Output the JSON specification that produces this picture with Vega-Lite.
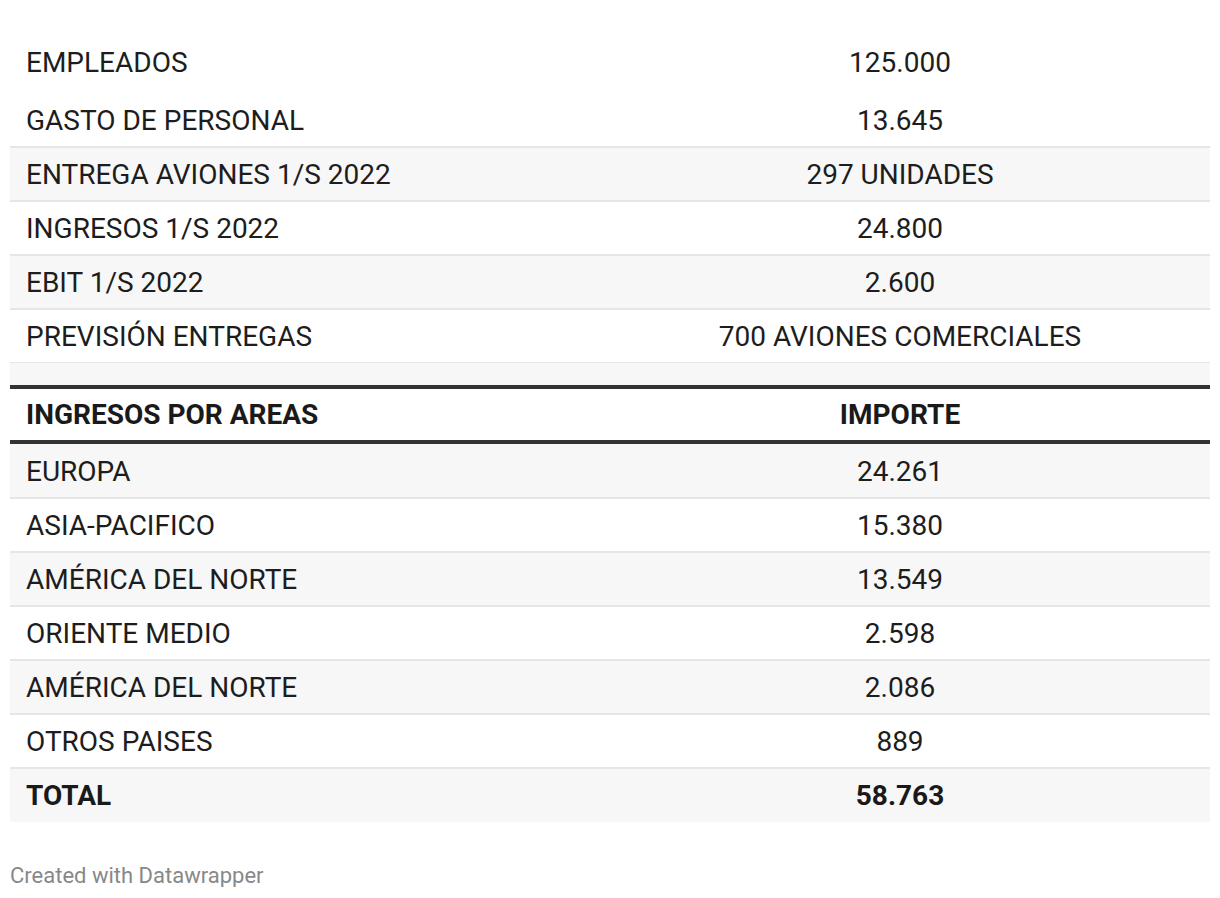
{
  "$schema": "https://vega.github.io/schema/vega-lite/v6.json",
  "padding": {"left": 8, "right": 12, "top": 31, "bottom": 0},
  "background": "white",
  "bounds": "flush",
  "spacing": 0,
  "config": {
    "view": {"stroke": null},
    "text": {"font": "Roboto", "fontSize": 28, "color": "#1d1d1d", "baseline": "middle", "dy": 2},
    "concat": {"spacing": 0}
  },
  "title": {"text": "Created with Datawrapper", "orient": "bottom", "anchor": "start", "font": "Roboto", "fontSize": 22, "fontWeight": "normal", "color": "#888888", "offset": 44, "dx": 2},
  "datasets": {
    "first": [{"row": 1, "label": "EMPLEADOS", "value": "125.000"}],
    "top": [
      {"row": 2, "label": "GASTO DE PERSONAL", "value": "13.645"},
      {"row": 3, "label": "ENTREGA AVIONES 1/S 2022", "value": "297 UNIDADES"},
      {"row": 4, "label": "INGRESOS 1/S 2022", "value": "24.800"},
      {"row": 5, "label": "EBIT 1/S 2022", "value": "2.600"},
      {"row": 6, "label": "PREVISIÓN ENTREGAS", "value": "700 AVIONES COMERCIALES"}
    ],
    "spacer": [{"row": 7, "label": "", "value": ""}],
    "head": [{"row": 0, "label": "INGRESOS POR AREAS", "value": "IMPORTE"}],
    "areas": [
      {"row": 1, "label": "EUROPA", "value": "24.261"},
      {"row": 2, "label": "ASIA-PACIFICO", "value": "15.380"},
      {"row": 3, "label": "AMÉRICA DEL NORTE", "value": "13.549"},
      {"row": 4, "label": "ORIENTE MEDIO", "value": "2.598"},
      {"row": 5, "label": "AMÉRICA DEL NORTE", "value": "2.086"},
      {"row": 6, "label": "OTROS PAISES", "value": "889"},
      {"row": 7, "label": "TOTAL", "value": "58.763"}
    ]
  },
  "vconcat": [
    {
      "width": 1200, "height": 62,
      "data": {"name": "first"},
      "layer": [
        {"mark": {"type": "text", "align": "left"},
         "encoding": {
           "x": {"datum": "label", "type": "nominal", "scale": {"type": "point", "domain": ["label", "value"], "range": [16, 890], "padding": 0}, "axis": null},
           "y": {"field": "row", "type": "ordinal", "scale": {"type": "band", "paddingInner": 0, "paddingOuter": 0}, "axis": null},
           "text": {"field": "label"}}},
        {"mark": {"type": "text", "align": "center"},
         "encoding": {
           "x": {"datum": "value", "type": "nominal", "scale": {"type": "point", "domain": ["label", "value"], "range": [16, 890], "padding": 0}, "axis": null},
           "y": {"field": "row", "type": "ordinal", "scale": {"type": "band", "paddingInner": 0, "paddingOuter": 0}, "axis": null},
           "text": {"field": "value"}}}
      ]
    },
    {
      "width": 1200, "height": 270,
      "data": {"name": "top"},
      "layer": [
        {"transform": [{"filter": "datum.row % 2 == 1"}],
         "mark": {"type": "rect", "color": "#f7f7f7"},
         "encoding": {
           "y": {"field": "row", "type": "ordinal", "scale": {"type": "band", "paddingInner": 0, "paddingOuter": 0}, "axis": null}}},
        {"mark": {"type": "rule", "color": "#e6e6e6", "strokeWidth": 2},
         "encoding": {
           "y": {"field": "row", "type": "ordinal", "bandPosition": 1, "scale": {"type": "band", "paddingInner": 0, "paddingOuter": 0}, "axis": null}}},
        {"mark": {"type": "text", "align": "left"},
         "encoding": {
           "x": {"datum": "label", "type": "nominal", "scale": {"type": "point", "domain": ["label", "value"], "range": [16, 890], "padding": 0}, "axis": null},
           "y": {"field": "row", "type": "ordinal", "scale": {"type": "band", "paddingInner": 0, "paddingOuter": 0}, "axis": null},
           "text": {"field": "label"}}},
        {"mark": {"type": "text", "align": "center"},
         "encoding": {
           "x": {"datum": "value", "type": "nominal", "scale": {"type": "point", "domain": ["label", "value"], "range": [16, 890], "padding": 0}, "axis": null},
           "y": {"field": "row", "type": "ordinal", "scale": {"type": "band", "paddingInner": 0, "paddingOuter": 0}, "axis": null},
           "text": {"field": "value"}}}
      ]
    },
    {
      "width": 1200, "height": 24,
      "data": {"name": "spacer"},
      "mark": {"type": "rect", "color": "#f7f7f7"},
      "encoding": {
        "y": {"field": "row", "type": "ordinal", "scale": {"type": "band", "paddingInner": 0, "paddingOuter": 0}, "axis": null}}
    },
    {
      "width": 1200, "height": 57,
      "data": {"name": "head"},
      "layer": [
        {"mark": {"type": "rule", "color": "#333333", "strokeWidth": 4},
         "encoding": {
           "y": {"field": "row", "type": "ordinal", "bandPosition": 0, "scale": {"type": "band", "paddingInner": 0, "paddingOuter": 0}, "axis": null}}},
        {"mark": {"type": "text", "align": "left", "fontWeight": "bold", "color": "#1a1a1a", "dy": 0},
         "encoding": {
           "x": {"datum": "label", "type": "nominal", "scale": {"type": "point", "domain": ["label", "value"], "range": [16, 890], "padding": 0}, "axis": null},
           "y": {"field": "row", "type": "ordinal", "scale": {"type": "band", "paddingInner": 0, "paddingOuter": 0}, "axis": null},
           "text": {"field": "label"}}},
        {"mark": {"type": "text", "align": "center", "fontWeight": "bold", "color": "#1a1a1a", "dy": 0},
         "encoding": {
           "x": {"datum": "value", "type": "nominal", "scale": {"type": "point", "domain": ["label", "value"], "range": [16, 890], "padding": 0}, "axis": null},
           "y": {"field": "row", "type": "ordinal", "scale": {"type": "band", "paddingInner": 0, "paddingOuter": 0}, "axis": null},
           "text": {"field": "value"}}}
      ]
    },
    {
      "width": 1200, "height": 378,
      "data": {"name": "areas"},
      "layer": [
        {"transform": [{"filter": "datum.row % 2 == 1"}],
         "mark": {"type": "rect", "color": "#f7f7f7"},
         "encoding": {
           "y": {"field": "row", "type": "ordinal", "scale": {"type": "band", "paddingInner": 0, "paddingOuter": 0}, "axis": null}}},
        {"transform": [{"filter": "datum.row < 7"}],
         "mark": {"type": "rule", "color": "#e6e6e6", "strokeWidth": 2},
         "encoding": {
           "y": {"field": "row", "type": "ordinal", "bandPosition": 1, "scale": {"type": "band", "paddingInner": 0, "paddingOuter": 0}, "axis": null}}},
        {"transform": [{"filter": "datum.row == 1"}],
         "mark": {"type": "rule", "color": "#333333", "strokeWidth": 4, "yOffset": -2},
         "encoding": {
           "y": {"field": "row", "type": "ordinal", "bandPosition": 0, "scale": {"type": "band", "paddingInner": 0, "paddingOuter": 0}, "axis": null}}},
        {"transform": [{"filter": "datum.label !== 'TOTAL'"}],
         "mark": {"type": "text", "align": "left"},
         "encoding": {
           "x": {"datum": "label", "type": "nominal", "scale": {"type": "point", "domain": ["label", "value"], "range": [16, 890], "padding": 0}, "axis": null},
           "y": {"field": "row", "type": "ordinal", "scale": {"type": "band", "paddingInner": 0, "paddingOuter": 0}, "axis": null},
           "text": {"field": "label"}}},
        {"transform": [{"filter": "datum.label !== 'TOTAL'"}],
         "mark": {"type": "text", "align": "center"},
         "encoding": {
           "x": {"datum": "value", "type": "nominal", "scale": {"type": "point", "domain": ["label", "value"], "range": [16, 890], "padding": 0}, "axis": null},
           "y": {"field": "row", "type": "ordinal", "scale": {"type": "band", "paddingInner": 0, "paddingOuter": 0}, "axis": null},
           "text": {"field": "value"}}},
        {"transform": [{"filter": "datum.label === 'TOTAL'"}],
         "mark": {"type": "text", "align": "left", "fontWeight": "bold", "color": "#1a1a1a"},
         "encoding": {
           "x": {"datum": "label", "type": "nominal", "scale": {"type": "point", "domain": ["label", "value"], "range": [16, 890], "padding": 0}, "axis": null},
           "y": {"field": "row", "type": "ordinal", "scale": {"type": "band", "paddingInner": 0, "paddingOuter": 0}, "axis": null},
           "text": {"field": "label"}}},
        {"transform": [{"filter": "datum.label === 'TOTAL'"}],
         "mark": {"type": "text", "align": "center", "fontWeight": "bold", "color": "#1a1a1a"},
         "encoding": {
           "x": {"datum": "value", "type": "nominal", "scale": {"type": "point", "domain": ["label", "value"], "range": [16, 890], "padding": 0}, "axis": null},
           "y": {"field": "row", "type": "ordinal", "scale": {"type": "band", "paddingInner": 0, "paddingOuter": 0}, "axis": null},
           "text": {"field": "value"}}}
      ]
    }
  ]
}
